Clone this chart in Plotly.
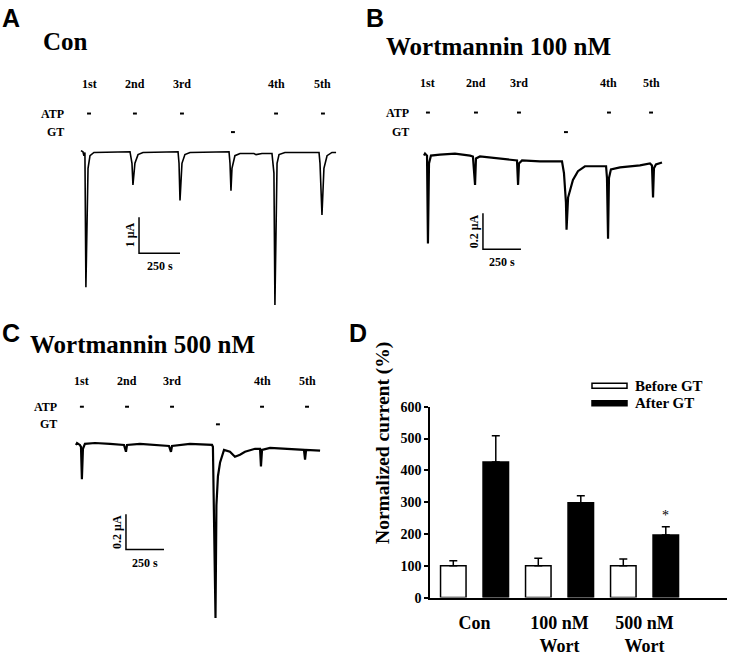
import plotly.graph_objects as go

W, H = 732, 662

# ---------------- data ----------------
# Panel A (Con): time (s) / current (uA)
A_time = [0, 12, 18, 24, 30, 43, 55, 79, 299, 311, 317, 329, 348, 378, 592, 598, 604, 616, 634, 665,
          903, 909, 915, 921, 939, 970, 1055, 1068, 1104, 1165, 1177, 1183, 1196, 1208, 1244,
          1452, 1458, 1470, 1482, 1501, 1531, 1556]
A_current = [0, -0.03, -0.14, -0.05, -3.78, -0.49, -0.14, -0.05, -0.03, -0.35, -0.95, -0.35, -0.11, -0.05,
             -0.03, -0.35, -1.38, -0.35, -0.11, -0.05, -0.03, -0.35, -1.11, -0.49, -0.14, -0.08,
             -0.08, -0.11, -0.08, -0.08, -0.62, -4.27, -0.35, -0.11, -0.05,
             -0.05, -0.35, -1.78, -0.49, -0.14, -0.05, -0.05]
A_atp_times = [49, 329, 616, 1190, 1476]
A_gt_times = [927]

# Panel B (Wortmannin 100 nM)
B_time = [0, 7, 20, 26, 33, 46, 105, 204, 303, 322, 336, 342, 368, 500, 599, 612, 619, 625, 645, 763,
          908, 921, 934, 938, 948, 980, 1013, 1059, 1158, 1198, 1204, 1211, 1217, 1230, 1290, 1421,
          1487, 1500, 1507, 1513, 1526, 1566]
B_current = [0, 0.011, 0, -0.486, -0.043, 0, 0.005, 0.011, 0, -0.005, -0.162, -0.016, -0.005, -0.016,
             -0.022, -0.027, -0.162, -0.043, -0.027, -0.032, -0.032, -0.097, -0.259, -0.410, -0.232,
             -0.135, -0.086, -0.059, -0.059, -0.059, -0.124, -0.459, -0.124, -0.076, -0.065, -0.054,
             -0.043, -0.054, -0.232, -0.070, -0.049, -0.038]
B_atp_times = [26, 342, 625, 1217, 1494]
B_gt_times = [934]

# Panel C (Wortmannin 500 nM)
C_time = [0, 7, 26, 33, 39, 46, 59, 125, 224, 316, 329, 336, 421, 520, 612, 625, 632, 750, 895, 901,
          918, 924, 934, 948, 974, 1013, 1046, 1079, 1112, 1178, 1211, 1217, 1224, 1277, 1408, 1500,
          1507, 1514, 1606]
C_current = [0, 0.011, 0, -0.011, -0.195, -0.022, 0.006, 0.011, 0.006, 0, -0.039, 0, 0.006, 0, -0.006,
             -0.039, -0.006, 0.006, 0, -0.011, -0.984, -0.345, -0.178, -0.100, -0.028, -0.039, -0.067,
             -0.056, -0.039, -0.022, -0.022, -0.122, -0.028, -0.017, -0.022, -0.028, -0.083, -0.028,
             -0.033]
C_atp_times = [39, 336, 632, 1224, 1520]
C_gt_times = [934]

application_labels = ["1st", "2nd", "3rd", "4th", "5th"]

scale_time = [250, 250, 250]        # s
scale_current = [1, 0.2, 0.2]       # uA
scale_current_text = ["1 μA", "0.2 μA", "0.2 μA"]

# Panel D
groups = ["Con", "100 nM<br>Wort", "500 nM<br>Wort"]
before_mean = [100, 100, 100]
before_err = [16, 24, 21]
after_mean = [426, 298, 197]
after_err = [83, 22, 26]
after_sig = ["", "", "*"]
y_ticks = [0, 100, 200, 300, 400, 500, 600]

# ---------------- helpers (layout) ----------------
def fx(p):
    return p / W

def fy(p):
    return 1 - p / H

SERIF = "Liberation Serif"
SANS = "Liberation Sans"

fig = go.Figure()

panels = [
    dict(name="A", t=A_time, i=A_current, atp=A_atp_times, gt=A_gt_times, xa="x", ya="y",
         dom_x=(70, 350), dom_y=(60, 320), xr=[-67, 1641], yr=[-4.676, 2.35], lw=1.6,
         rows=(79, 109, 128), lab_right=66, dash_half=12, bar_anchor=(354, -2.84),
         title="Con", title_pos=(41, 35), letter_pos=(0, 11)),
    dict(name="B", t=B_time, i=B_current, atp=B_atp_times, gt=B_gt_times, xa="x2", ya="y2",
         dom_x=(410, 700), dom_y=(60, 320), xr=[-92, 1816], yr=[-0.907, 0.497], lw=2.2,
         rows=(78, 108, 128), lab_right=411, dash_half=13, bar_anchor=(388, -0.518),
         title="Wortmannin 100 nM", title_pos=(384, 40), letter_pos=(364, 11)),
    dict(name="C", t=C_time, i=C_current, atp=C_atp_times, gt=C_gt_times, xa="x3", ya="y3",
         dom_x=(60, 340), dom_y=(370, 640), xr=[-105, 1737], yr=[-1.067, 0.434], lw=2.2,
         rows=(383, 409, 427), lab_right=59, dash_half=13, bar_anchor=(329, -0.595),
         title="Wortmannin 500 nM", title_pos=(28, 345), letter_pos=(0, 334)),
]

annotations = []
shapes = []

for k, p in enumerate(panels):
    fig.add_trace(go.Scatter(x=p["t"], y=p["i"], mode="lines",
                             line=dict(color="black", width=p["lw"]),
                             xaxis=p["xa"], yaxis=p["ya"], showlegend=False, hoverinfo="skip"))
    axn = "" if k == 0 else str(k + 1)
    fig.update_layout(**{
        "xaxis" + axn: dict(domain=[fx(p["dom_x"][0]), fx(p["dom_x"][1])], range=p["xr"],
                            visible=False, anchor="y" + axn, fixedrange=True),
        "yaxis" + axn: dict(domain=[fy(p["dom_y"][1]), fy(p["dom_y"][0])], range=p["yr"],
                            visible=False, anchor="x" + axn, fixedrange=True),
    })
    # title and letter
    annotations.append(dict(text="<b>%s</b>" % p["title"], x=fx(p["title_pos"][0]), y=fy(p["title_pos"][1]),
                            xref="paper", yref="paper", xanchor="left", yanchor="middle", showarrow=False,
                            font=dict(family=SERIF, size=25, color="black")))
    annotations.append(dict(text="<b>%s</b>" % p["name"], x=fx(p["letter_pos"][0]), y=fy(p["letter_pos"][1]),
                            xref="paper", yref="paper", xanchor="left", yanchor="middle", showarrow=False,
                            font=dict(family=SANS, size=25, color="black")))
    # application labels
    for lab, t in zip(application_labels, p["atp"]):
        annotations.append(dict(text="<b>%s</b>" % lab, x=t, y=fy(p["rows"][0]), xref=p["xa"], yref="paper",
                                xanchor="center", yanchor="middle", showarrow=False,
                                font=dict(family=SERIF, size=12, color="black")))
    for row_name, row_y in (("ATP", p["rows"][1]), ("GT", p["rows"][2])):
        annotations.append(dict(text="<b>%s</b>" % row_name, x=fx(p["lab_right"]), y=fy(row_y),
                                xref="paper", yref="paper", xanchor="right", yanchor="middle", showarrow=False,
                                font=dict(family=SERIF, size=12, color="black")))
    for times, row_y in ((p["atp"], p["rows"][1]), (p["gt"], p["rows"][2])):
        for t in times:
            shapes.append(dict(type="line", xref=p["xa"], yref="paper",
                               x0=t - p["dash_half"], x1=t + p["dash_half"], y0=fy(row_y), y1=fy(row_y),
                               line=dict(color="black", width=2)))
    # scale bar
    bx, by = p["bar_anchor"]
    st, sc = scale_time[k], scale_current[k]
    shapes.append(dict(type="path", xref=p["xa"], yref=p["ya"],
                       path="M %f,%f L %f,%f L %f,%f" % (bx, by + sc, bx, by, bx + st, by),
                       line=dict(color="black", width=1.5)))
    annotations.append(dict(text="<b>%s</b>" % scale_current_text[k], x=bx, y=by + sc / 2, xref=p["xa"],
                            yref=p["ya"], xanchor="center", yanchor="middle", xshift=-9, textangle=-90,
                            showarrow=False, font=dict(family=SERIF, size=12, color="black")))
    annotations.append(dict(text="<b>%d s</b>" % st, x=bx + st / 2, y=by, xref=p["xa"], yref=p["ya"],
                            xanchor="center", yanchor="middle", yshift=-13, showarrow=False,
                            font=dict(family=SERIF, size=12, color="black")))

# ---------------- Panel D ----------------
fig.add_trace(go.Bar(x=groups, y=before_mean, name="Before GT", xaxis="x4", yaxis="y4",
                     marker=dict(color="white", line=dict(color="black", width=1.5)),
                     error_y=dict(type="data", symmetric=False, array=before_err,
                                  arrayminus=[0] * len(before_err), color="black", thickness=1.5, width=4),
                     showlegend=False))
fig.add_trace(go.Bar(x=groups, y=after_mean, name="After GT", xaxis="x4", yaxis="y4",
                     marker=dict(color="black", line=dict(color="black", width=1.5)),
                     error_y=dict(type="data", symmetric=False, array=after_err,
                                  arrayminus=[0] * len(after_err), color="black", thickness=1.5, width=4),
                     showlegend=False))

fig.update_layout(
    xaxis4=dict(domain=[fx(430), fx(727)], range=[-0.524, 2.97], anchor="y4", type="category",
                showline=True, linecolor="black", linewidth=1.5, ticks="", ticklabelstandoff=8,
                tickfont=dict(family=SERIF, size=18, color="black", weight="bold"), fixedrange=True,
                showgrid=False, zeroline=False),
    yaxis4=dict(domain=[fy(604.3), fy(409)], range=[0, 600], anchor="x4", tickvals=y_ticks,
                showline=True, linecolor="black", linewidth=1.5, ticks="outside", ticklen=4,
                tickwidth=1.5, tickcolor="black",
                tickfont=dict(family=SERIF, size=14, color="black", weight="bold"), fixedrange=True,
                showgrid=False, zeroline=False),
    barmode="group", bargap=0.0, bargroupgap=0.4,
)

for gi, (g, m, e, s) in enumerate(zip(groups, after_mean, after_err, after_sig)):
    if s:
        annotations.append(dict(text=s, x=gi + 0.25, y=m + e, xref="x4", yref="y4", xanchor="center",
                                yanchor="bottom", yshift=2, showarrow=False,
                                font=dict(family=SERIF, size=14, color="black")))

annotations.append(dict(text="<b>Normalized current (%)</b>", x=fx(383), y=fy(446), xref="paper", yref="paper",
                        xanchor="center", yanchor="middle", textangle=-90, showarrow=False,
                        font=dict(family=SERIF, size=19.5, color="black")))
annotations.append(dict(text="<b>D</b>", x=fx(347), y=fy(334), xref="paper", yref="paper",
                        xanchor="left", yanchor="middle", showarrow=False,
                        font=dict(family=SANS, size=25, color="black")))

# manual legend
legend_items = [("Before GT", "white", 387.5), ("After GT", "black", 405.5)]
for name, color, yc in legend_items:
    shapes.append(dict(type="rect", xref="paper", yref="paper", x0=fx(592), x1=fx(627),
                       y0=fy(yc + 2.5), y1=fy(yc - 2.5), fillcolor=color, line=dict(color="black", width=1.5)))
    annotations.append(dict(text="<b>%s</b>" % name, x=fx(633), y=fy(yc), xref="paper", yref="paper",
                            xanchor="left", yanchor="middle", showarrow=False,
                            font=dict(family=SERIF, size=15, color="black")))

fig.update_layout(
    width=W, height=H, margin=dict(l=0, r=0, t=0, b=0),
    paper_bgcolor="white", plot_bgcolor="white",
    annotations=annotations, shapes=shapes, showlegend=False,
)

fig.write_html("out.html", config={"displayModeBar": False},
               post_script="document.body.style.margin='0px';")
